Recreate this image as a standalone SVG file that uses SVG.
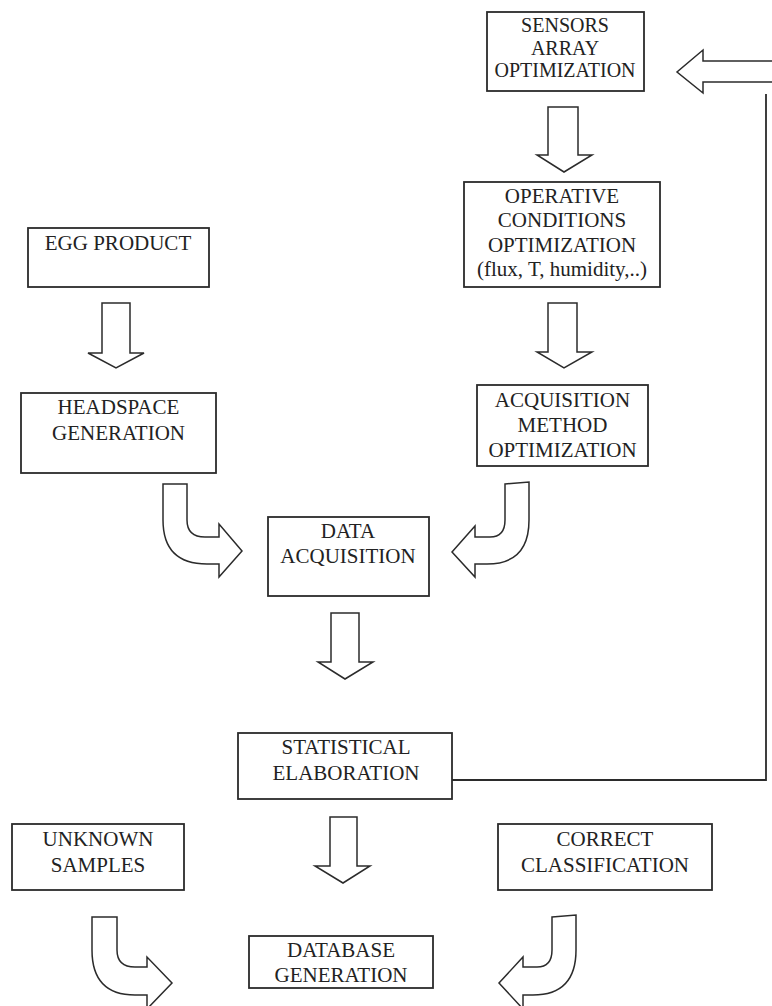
<svg xmlns="http://www.w3.org/2000/svg" width="772" height="1006" viewBox="0 0 772 1006">
<style>
.box{fill:#fff;stroke:#2b2b2b;stroke-width:1.8}
.t{font-family:"Liberation Serif","Times New Roman",serif;font-size:21px;fill:#222;text-anchor:middle}
.ts{font-size:20px}
.arr{fill:#fff;stroke:#2b2b2b;stroke-width:1.5;stroke-linejoin:miter}
.ln{fill:none;stroke:#2b2b2b;stroke-width:1.8}
</style>
<rect width="772" height="1006" fill="#fff"/>
<g id="connectors">
<path class="ln" d="M452,780 L766,780 L766,94"/>
<path class="arr" d="M772,61 L703,61 L703,50 L677,72 L703,93 L703,82 L772,82"/>
<polygon class="arr" points="548,107 578,107 578,155 592,155 564,172 537,155 548,155"/>
<polygon class="arr" points="548,303 577,303 577,352 592,352 564,368 537,352 548,352"/>
<polygon class="arr" points="102,303 130,303 130,353 144,353 116,368 88,353 102,353"/>
<polygon class="arr" points="331,613 359,613 359,662 373,662 345,679 318,662 331,662"/>
<polygon class="arr" points="330,817 357,817 357,866 370,866 343,883 315,866 330,866"/>
<path class="arr" d="M163,484 L187,484 L187,520 Q187,537 205,537 L219,537 L219,524 L242,551 L219,577 L219,564 L207,564 Q163,564 163,520 Z"/>
<path class="arr" d="M505,484 L529,482 L529,520 Q529,564 487,564 L475,564 L475,577 L452,552 L475,526 L475,537 L490,537 Q505,537 505,520 Z"/>
<path class="arr" d="M92,917 L117,917 L117,950 Q117,967 135,967 L147,967 L147,957 L172,983 L147,1009 L147,995 L135,995 Q92,995 92,950 Z"/>
<path class="arr" d="M552,917 L576,915 L576,950 Q576,995 533,995 L523,995 L523,1009 L499,983 L523,957 L523,967 L537,967 Q552,967 552,950 Z"/>
</g>
<g id="sensors">
<rect class="box" x="487" y="12" width="157" height="79"/>
<text class="t ts" x="565" y="32">SENSORS</text>
<text class="t ts" x="565" y="55">ARRAY</text>
<text class="t ts" x="565" y="77">OPTIMIZATION</text>
</g>
<g id="operative">
<rect class="box" x="464" y="182" width="196" height="105"/>
<text class="t" x="562" y="203">OPERATIVE</text>
<text class="t" x="562" y="227">CONDITIONS</text>
<text class="t" x="562" y="252">OPTIMIZATION</text>
<text class="t" x="562" y="276">(flux, T, humidity,..)</text>
</g>
<g id="acqmethod">
<rect class="box" x="477" y="385" width="171" height="81"/>
<text class="t" x="562.5" y="407">ACQUISITION</text>
<text class="t" x="562.5" y="432">METHOD</text>
<text class="t" x="562.5" y="457">OPTIMIZATION</text>
</g>
<g id="egg">
<rect class="box" x="28" y="228" width="181" height="59"/>
<text class="t" x="118" y="250">EGG PRODUCT</text>
</g>
<g id="headspace">
<rect class="box" x="21" y="393" width="195" height="80"/>
<text class="t" x="118.5" y="414">HEADSPACE</text>
<text class="t" x="118.5" y="440">GENERATION</text>
</g>
<g id="data">
<rect class="box" x="268" y="517" width="161" height="79"/>
<text class="t" x="348" y="538">DATA</text>
<text class="t" x="348" y="563">ACQUISITION</text>
</g>
<g id="statistical">
<rect class="box" x="238" y="733" width="214" height="66"/>
<text class="t" x="346" y="754">STATISTICAL</text>
<text class="t" x="346" y="780">ELABORATION</text>
</g>
<g id="unknown">
<rect class="box" x="12" y="824" width="172" height="66"/>
<text class="t" x="98" y="846">UNKNOWN</text>
<text class="t" x="98" y="872">SAMPLES</text>
</g>
<g id="correct">
<rect class="box" x="498" y="824" width="214" height="66"/>
<text class="t" x="605" y="846">CORRECT</text>
<text class="t" x="605" y="872">CLASSIFICATION</text>
</g>
<g id="database">
<rect class="box" x="249" y="936" width="184" height="52"/>
<text class="t" x="341" y="957">DATABASE</text>
<text class="t" x="341" y="982">GENERATION</text>
</g>
</svg>
